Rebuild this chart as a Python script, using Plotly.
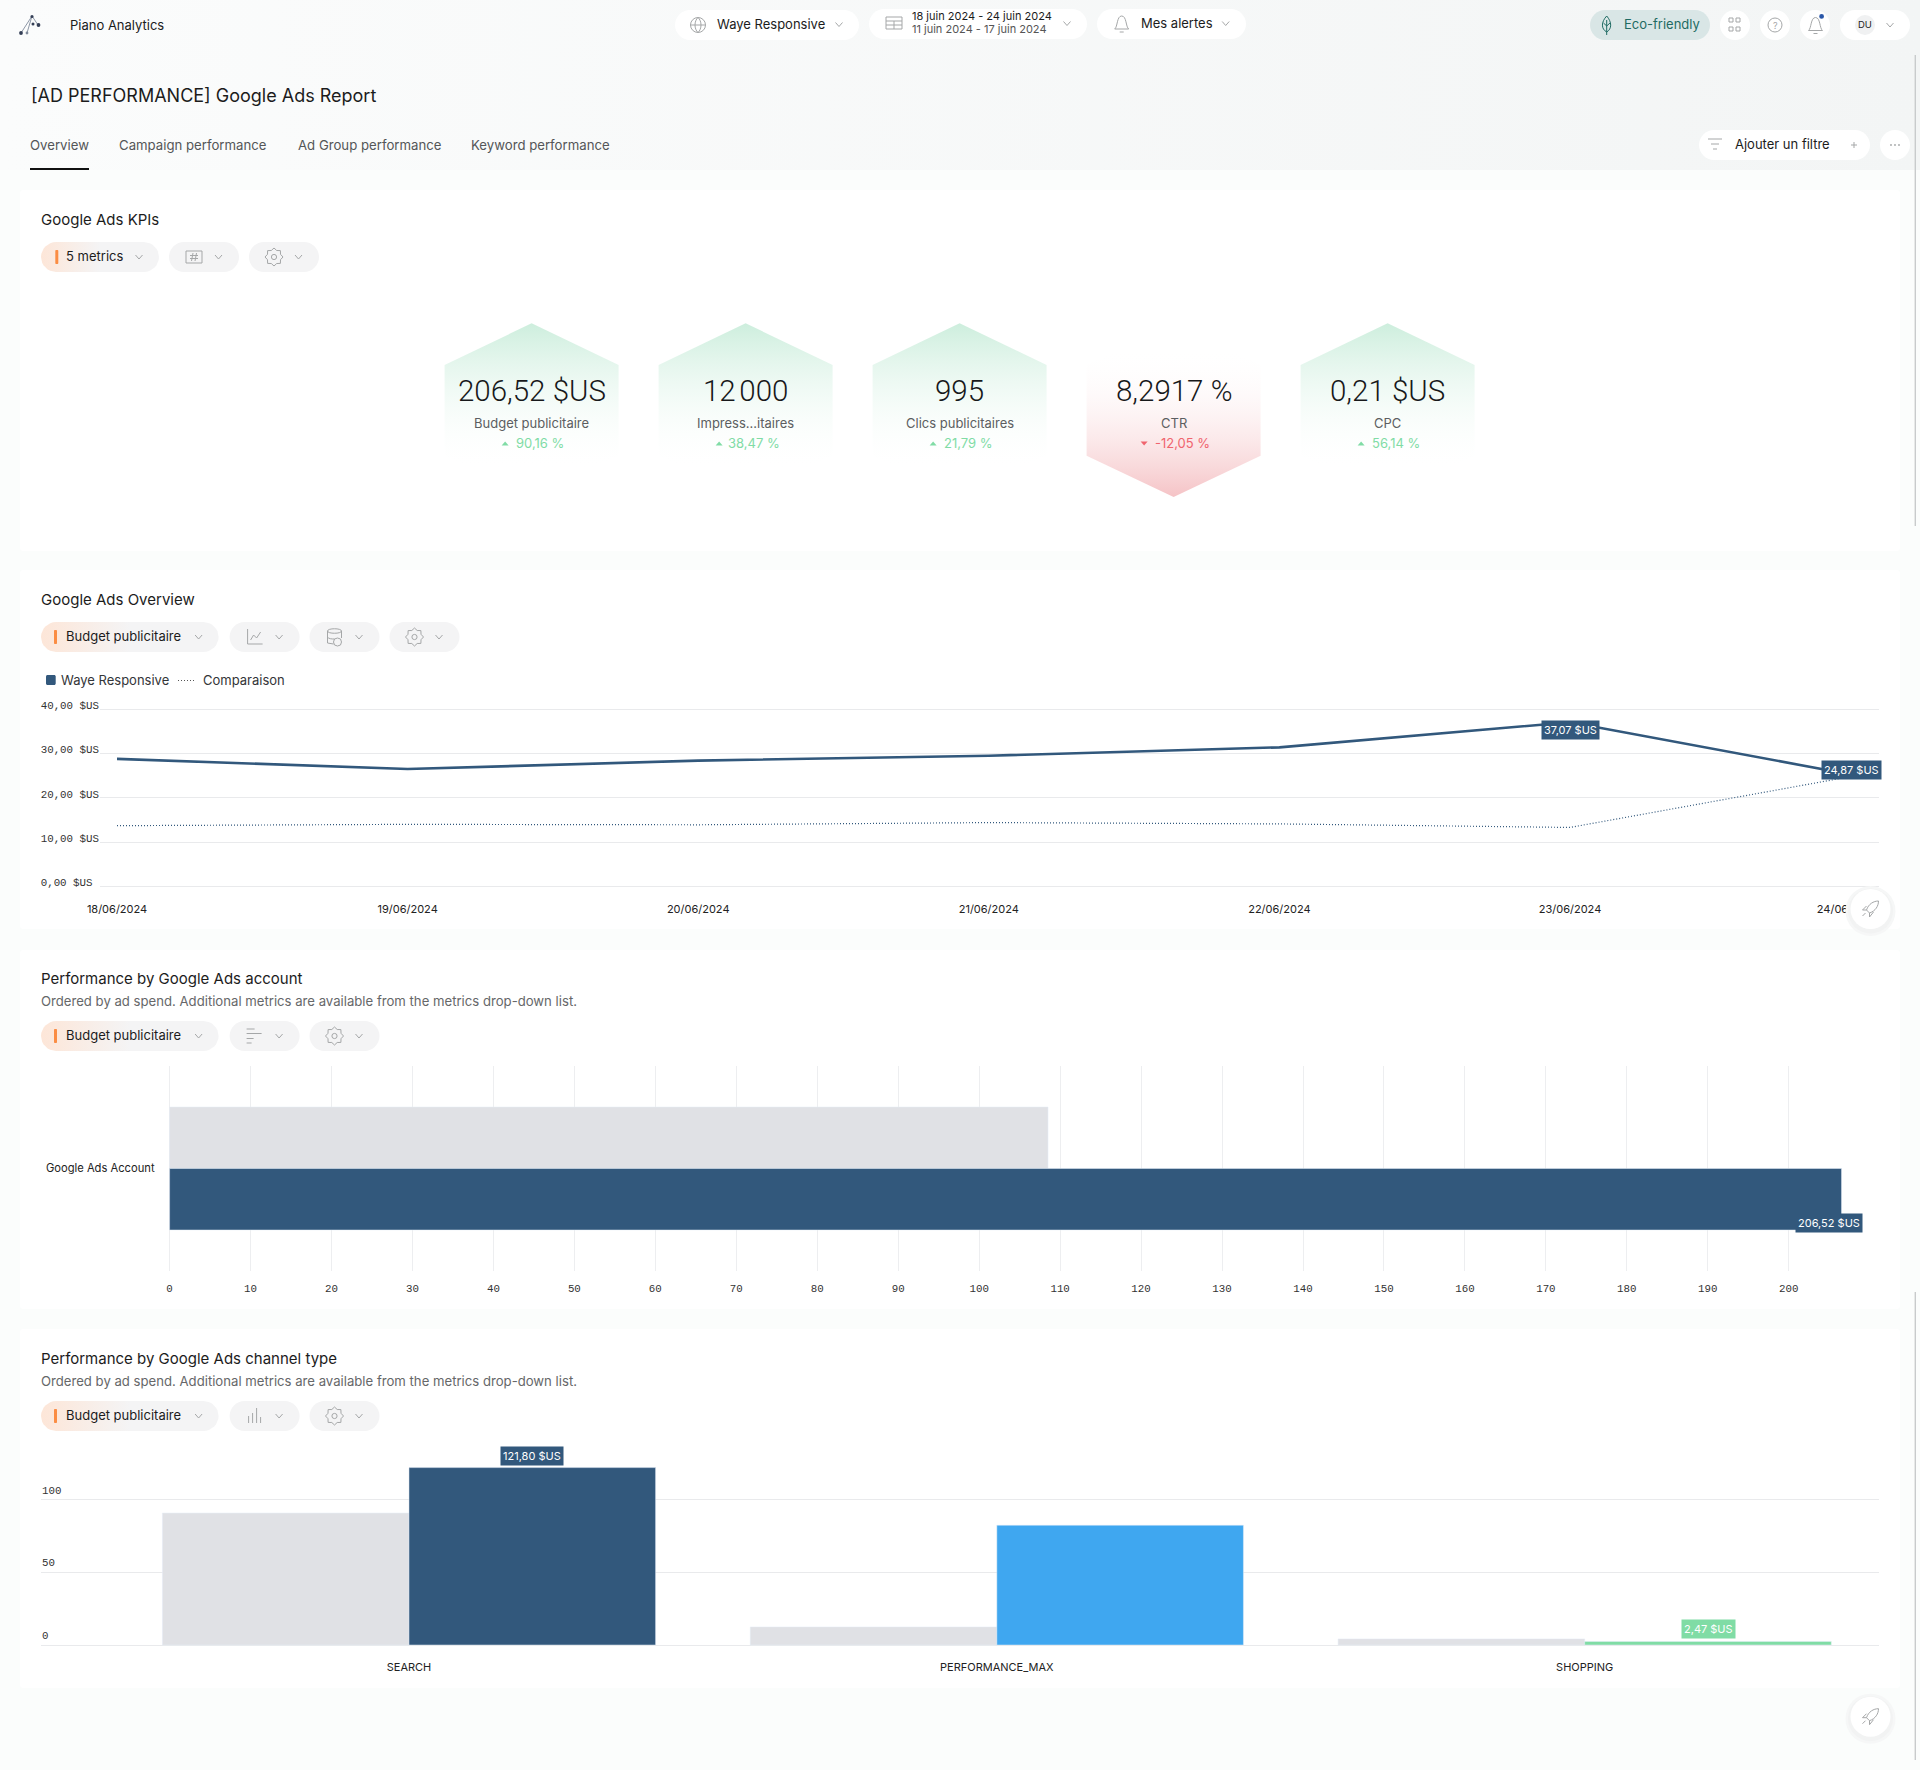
import math
import plotly.graph_objects as go

# data
dates = ["18/06/2024", "19/06/2024", "20/06/2024", "21/06/2024", "22/06/2024", "23/06/2024", "24/06/2024"]
budget_current = [28.8, 26.5, 28.4, 29.5, 31.4, 37.07, 24.87]
budget_compare = [13.7, 14.0, 13.9, 14.4, 14.1, 13.3, 25.2]
budget_ticks = [0, 10, 20, 30, 40]

account_names = ["Google Ads Account"]
account_compare = [108.5]
account_current = [206.52]
account_ticks = list(range(0, 201, 10))

channels = ["SEARCH", "PERFORMANCE_MAX", "SHOPPING"]
channel_compare = [90.6, 12.4, 4.2]
channel_current = [121.80, 82.25, 2.47]
channel_ticks = [0, 50, 100]

kpi_values = ["206,52 $US", "12\u202f000", "995", "8,2917 %", "0,21 $US"]
kpi_names = ["Budget publicitaire", "Impress...itaires", "Clics publicitaires", "CTR", "CPC"]
kpi_deltas = ["90,16 %", "38,47 %", "21,79 %", "-12,05 %", "56,14 %"]

W, H = 1920, 1770
FONT = "Inter"
MONO = "Liberation Mono"
NAVY = "#32587c"
BLUE = "#3fa7f0"
GREEN = "#80dca5"
RED = "#f0646e"
GREY_BAR = "#e0e1e5"
GRID = "#e9eaec"
ICON = "#a5a7a8"
PILL = "#f4f4f5"

shapes = []
notes = []


def money(v):
    return f"{v:.2f}".replace(".", ",") + " $US"


def txt(x, y, text, size=13, color="#1c1c1c", anchor="left", weight=None, family=FONT):
    # small nudge: annotations sit a little low and to the right of the measured text
    if anchor == "left":
        x = x - 1
    notes.append(dict(x=x, y=y - 0.8, xref="x", yref="y", text=text, showarrow=False, xanchor=anchor,
                      yanchor="middle", borderpad=0,
                      font=dict(family=family, size=size, color=color, weight=weight)))


def rrect(x0, y0, x1, y1, r, fill, layer="above", line=None):
    k = r * 0.45
    p = (f"M{x0+r},{y0} L{x1-r},{y0} C{x1-k},{y0} {x1},{y0+k} {x1},{y0+r} L{x1},{y1-r} "
         f"C{x1},{y1-k} {x1-k},{y1} {x1-r},{y1} L{x0+r},{y1} C{x0+k},{y1} {x0},{y1-k} {x0},{y1-r} "
         f"L{x0},{y0+r} C{x0},{y0+k} {x0+k},{y0} {x0+r},{y0} Z")
    shapes.append(dict(type="path", path=p, xref="x", yref="y", fillcolor=fill, layer=layer,
                       line=dict(width=0) if line is None else dict(color=line, width=1)))


def stroke(path, color=ICON, width=1, fill=None):
    shapes.append(dict(type="path", path=path, xref="x", yref="y", layer="above",
                       fillcolor=fill, line=dict(color=color, width=width)))


def circle(cx, cy, r, color=ICON, width=1, fill=None):
    shapes.append(dict(type="circle", x0=cx-r, x1=cx+r, y0=cy-r, y1=cy+r, xref="x", yref="y", layer="above",
                       fillcolor=fill, line=dict(color=color, width=width)))


def chevron(cx, cy):
    stroke(f"M{cx-3.5},{cy-2} L{cx},{cy+2} L{cx+3.5},{cy-2}")


def bell(cx, cy):
    stroke(f"M{cx-7},{cy+6} C{cx-4},{cy+4} {cx-5},{cy-7} {cx},{cy-7} C{cx+5},{cy-7} {cx+4},{cy+4} {cx+7},{cy+6} Z")
    stroke(f"M{cx-2},{cy+9} L{cx+2},{cy+9}")


def gear(cx, cy):
    pts = []
    for i in range(16):
        r = 9 if i % 2 == 0 else 7
        pts.append((cx + r * math.sin(i * math.pi / 8), cy - r * math.cos(i * math.pi / 8)))
    stroke("M" + " L".join(f"{a:.1f},{b:.1f}" for a, b in pts) + " Z")
    circle(cx, cy, 2.6)


def rocket(cy):
    cx = 1870.5
    for r, op in [(25, "#f6f7f7"), (22.5, "#f2f3f3")]:
        circle(cx, cy + 2, r, color=op, width=0, fill=op)
    circle(cx, cy, 20, color="#ffffff", width=0, fill="#ffffff")
    stroke(f"M{cx+8},{cy-8} C{cx+3},{cy-8} {cx-2},{cy-5} {cx-4},{cy+1} L{cx-1},{cy+4} C{cx+5},{cy+2} {cx+8},{cy-3} {cx+8},{cy-8} Z")
    stroke(f"M{cx-4},{cy+1} L{cx-8},{cy+1} L{cx-4},{cy-3} M{cx-1},{cy+4} L{cx-1},{cy+8} L{cx+3},{cy+3}")
    stroke(f"M{cx-5},{cy+4} L{cx-8},{cy+7}")


def pill_points(x0, y0, x1, y1, r):
    xs, ys = [], []
    corners = [(x1-r, y0+r, -90), (x1-r, y1-r, 0), (x0+r, y1-r, 90), (x0+r, y0+r, 180)]
    for cx, cy, start in corners:
        for i in range(9):
            a = math.radians(start + i * 90 / 8)
            xs.append(cx + r * math.cos(a))
            ys.append(cy + r * math.sin(a))
    return xs + xs[:1], ys + ys[:1]


fig = go.Figure()


def grad_fill(xs, ys, kind, start, stop, scale):
    fig.add_trace(go.Scatter(x=xs, y=ys, xaxis="x", yaxis="y", mode="lines", line=dict(width=0), fill="toself",
                             fillgradient=dict(type=kind, start=start, stop=stop, colorscale=scale),
                             hoverinfo="skip", showlegend=False))


def metric_pill(x1, y0, label, bar_x=54):
    xs, ys = pill_points(41, y0, x1, y0 + 30, 15)
    grad_fill(xs, ys, "horizontal", 41, 41 + (x1 - 41) * 0.5, [[0, "#fde6d8"], [1, PILL]])
    rrect(bar_x, y0 + 8, bar_x + 3, y0 + 22, 1, "#fb8d44")
    txt(65.5, y0 + 15, label)
    chevron(x1 - 20, y0 + 15)


def small_pill(x0, y0, draw_icon):
    rrect(x0, y0, x0 + 70, y0 + 30, 15, PILL, layer="below")
    draw_icon(x0 + 25, y0 + 15)
    chevron(x0 + 49.5, y0 + 15)


def hash_icon(cx, cy):
    stroke(f"M{cx-8},{cy-6} H{cx+8} V{cy+6} H{cx-8} Z")
    stroke(f"M{cx-1},{cy-4} L{cx-2.5},{cy+4} M{cx+2.5},{cy-4} L{cx+1},{cy+4} M{cx-4},{cy-1.5} H{cx+4} M{cx-4},{cy+1.5} H{cx+4}")


def line_icon(cx, cy):
    stroke(f"M{cx-7},{cy-8} V{cy+7} H{cx+8}")
    stroke(f"M{cx-4},{cy+3} L{cx-1},{cy-2} L{cx+2},{cy+1} L{cx+6},{cy-5}")


def db_icon(cx, cy):
    stroke(f"M{cx-7},{cy-6} C{cx-7},{cy-9} {cx+7},{cy-9} {cx+7},{cy-6} V{cy+1} M{cx-7},{cy-6} V{cy+6} L{cx-1},{cy+7}")
    stroke(f"M{cx-7},{cy-6} C{cx-7},{cy-3} {cx+7},{cy-3} {cx+7},{cy-6}")
    stroke(f"M{cx-7},{cy} C{cx-6},{cy+2} {cx-2},{cy+2} {cx},{cy+2}")
    circle(cx + 3, cy + 5, 4)


def hbar_icon(cx, cy):
    stroke(f"M{cx-8},{cy-7} H{cx} M{cx-8},{cy-2.5} H{cx+7} M{cx-8},{cy+2.5} H{cx-1} M{cx-8},{cy+7} H{cx-3}")


def vbar_icon(cx, cy):
    stroke(f"M{cx-6},{cy+7} V{cy} M{cx-2},{cy+7} V{cy-3} M{cx+2},{cy+7} V{cy-8} M{cx+6},{cy+7} V{cy+1}")


# page background and header band
grad_fill([0, W, W, 0, 0], [0, 0, 170, 170, 0], "horizontal", 0, W, [[0, "#fbfcfc"], [1, "#f3f5f5"]])

# cards
for top, bottom in [(190, 551), (570, 929), (950, 1309), (1329, 1688)]:
    rrect(20, top, 1900, bottom, 3, "#ffffff", layer="below")
shapes.append(dict(type="rect", x0=1914.6, x1=1916, y0=55, y1=526, xref="x", yref="y", fillcolor="#c8cbcc", line_width=0, layer="above"))
shapes.append(dict(type="rect", x0=1914.6, x1=1916, y0=1292, y1=1760, xref="x", yref="y", fillcolor="#c8cbcc", line_width=0, layer="above"))

# top bar
stroke("M21,33 L32,16 L38,25 M32,16 L27,33", color="#8d97a6", width=1)
for cx, cy, r, c in [(32, 16.5, 1.6, "#333e55"), (21, 33, 1.9, "#333e55"), (38.5, 25, 1.9, "#333e55"), (33, 24, 1.5, "#333e55"), (27, 33, 1.4, "#7f8a9a")]:
    circle(cx, cy, r, color=c, width=0, fill=c)
txt(70, 25.5, "Piano Analytics")

rrect(675, 10, 859, 40, 15, "#ffffff")
circle(698, 25, 7.5)
stroke("M690.5,25 H705.5 M698,17.5 C694,21 694,29 698,32.5 C702,29 702,21 698,17.5")
txt(717, 24.7, "Waye Responsive")
chevron(839, 24.5)

rrect(869, 9, 1087, 39, 15, "#ffffff")
stroke("M886,17 H902 V29 H886 Z M886,21 H902 M894,21 V29 M886,25 H902")
txt(912, 16.8, "18 juin 2024 - 24 juin 2024", size=11)
txt(912, 29.8, "11 juin 2024 - 17 juin 2024", size=11, color="#555555")
chevron(1067, 23.5)

rrect(1097, 9, 1246, 39, 15, "#ffffff")
bell(1121.7, 23)
txt(1140.5, 23.7, "Mes alertes")
chevron(1225.7, 23.5)

rrect(1590, 10, 1710, 40, 15, "#d9e6e6")
stroke("M1606.7,16 C1601,22 1601,29 1606.7,32 C1612,29 1612,22 1606.7,16 Z M1606.7,20 V35 M1606.7,26 L1603.5,23 M1606.7,26 L1610,23", color="#1f6b63")
txt(1624, 25, "Eco-friendly", color="#1f6b63")

rrect(1720, 10, 1750, 40, 15, "#ffffff")
stroke("M1729,18 H1733 V22 H1729 Z M1736,18 H1740 V22 H1736 Z M1729,27 H1733 V31 H1729 Z M1736,27 H1740 V31 H1736 Z")
rrect(1760, 10, 1790, 40, 15, "#ffffff")
circle(1775, 25, 7)
notes.append(dict(x=1775, y=25, xref="x", yref="y", text="?", showarrow=False, borderpad=0, font=dict(family=FONT, size=9, color=ICON)))
rrect(1800, 10, 1830, 40, 15, "#ffffff")
bell(1815.5, 24.5)
circle(1821.6, 16.4, 2.4, color="#2a57a8", width=0, fill="#2a57a8")
rrect(1840, 10, 1910, 40, 15, "#ffffff")
circle(1865, 25, 10, color="#f0f1f2", width=0, fill="#f0f1f2")
txt(1865, 25, "DU", size=9.5, anchor="center")
chevron(1890, 25)

# report title and tabs
txt(30.5, 96, "[AD PERFORMANCE] Google Ads Report", size=18)
for x, t in [(30, "Overview"), (119, "Campaign performance"), (297.5, "Ad Group performance"), (471, "Keyword performance")]:
    txt(x, 145.7, t, color="#545658", size=13.2)
shapes.append(dict(type="rect", x0=30, x1=89, y0=168, y1=170, xref="x", yref="y", fillcolor="#111111", line_width=0, layer="above"))

rrect(1699, 130, 1870, 160, 15, "#ffffff")
stroke("M1708,139 H1722 M1711,144 H1719 M1713,149 H1717")
txt(1735, 144.7, "Ajouter un filtre")
stroke("M1851,145 H1857 M1854,142 V148")
rrect(1880, 130, 1910, 160, 15, "#ffffff")
for dx in (-4, 0, 4):
    circle(1895 + dx, 145, 0.6)

# KPI card
txt(41, 220, "Google Ads KPIs", size=15)
metric_pill(159, 242, "5 metrics", bar_x=55.3)
small_pill(169, 242, hash_icon)
small_pill(249, 242, gear)

kpi_x = [531.6, 745.6, 959.6, 1173.6, 1387.6]
for i, cx in enumerate(kpi_x):
    xs = [cx, cx + 87, cx + 87, cx, cx - 87, cx - 87, cx]
    ys = [323.3, 365, 455.7, 497, 455.7, 365, 323.3]
    if kpi_deltas[i].startswith("-"):
        grad_fill(xs, ys, "vertical", 350, 497, [[0, "rgba(255,255,255,0)"], [1, "#f5c3c6"]])
    else:
        grad_fill(xs, ys, "vertical", 323.3, 470, [[0, "#cdeedd"], [1, "rgba(255,255,255,0)"]])
    txt(cx, 392, kpi_values[i], size=29.5, color="#17181a", anchor="center", weight=300, family="Roboto")
    txt(cx, 423.7, kpi_names[i], color="#5c5e61", anchor="center")
    down = kpi_deltas[i].startswith("-")
    col = RED if down else GREEN
    dx = cx + 8.5
    txt(dx, 443.7, kpi_deltas[i], color=col, anchor="center")
    ax = cx - 26.5 if not down else cx - 29.5
    if down:
        stroke(f"M{ax-3.5},{441.5} H{ax+3.5} L{ax},{445.5} Z", color=col, width=0, fill=col)
    else:
        stroke(f"M{ax-3.5},{445.5} H{ax+3.5} L{ax},{441.5} Z", color=col, width=0, fill=col)

# overview card
txt(41, 600, "Google Ads Overview", size=15)
metric_pill(218.6, 622, "Budget publicitaire")
small_pill(229.6, 622, line_icon)
small_pill(309.5, 622, db_icon)
small_pill(389.5, 622, gear)
rrect(46, 675, 55.7, 685, 1.5, NAVY)
txt(61, 680.7, "Waye Responsive", color="#333538")
stroke("M178,680.5 H196", color="#555555", width=1.2)
shapes[-1]["line"]["dash"] = "1px,2px"
txt(203, 680.7, "Comparaison", color="#333538")

# account card
subtitle = "Ordered by ad spend. Additional metrics are available from the metrics drop-down list."
txt(41, 979, "Performance by Google Ads account", size=15)
txt(41, 1001.7, subtitle, size=13.15, color="#666769")
metric_pill(218.6, 1021, "Budget publicitaire")
small_pill(229.6, 1021, hbar_icon)
small_pill(309.5, 1021, gear)

# channel card
txt(41, 1359, "Performance by Google Ads channel type", size=15)
txt(41, 1381.7, subtitle, size=13.15, color="#666769")
metric_pill(218.6, 1401, "Budget publicitaire")
small_pill(229.6, 1401, vbar_icon)
small_pill(309.5, 1401, gear)

rocket(909)
rocket(1716.7)

# charts
fig.add_trace(go.Scatter(x=dates, y=budget_compare, xaxis="x2", yaxis="y2", mode="lines", name="Comparaison",
                         line=dict(color=NAVY, width=1.2, dash="1px,2px")))
fig.add_trace(go.Scatter(x=dates, y=budget_current, xaxis="x2", yaxis="y2", mode="lines", name="Waye Responsive",
                         line=dict(color=NAVY, width=2.6)))

fig.add_trace(go.Bar(y=account_names, x=account_compare, xaxis="x3", yaxis="y3", orientation="h",
                     marker_color=GREY_BAR, width=0.3, offset=-0.3))
fig.add_trace(go.Bar(y=account_names, x=account_current, xaxis="x3", yaxis="y3", orientation="h",
                     marker_color=NAVY, width=0.3, offset=0))

fig.add_trace(go.Bar(x=channels, y=channel_compare, xaxis="x4", yaxis="y4", marker_color=GREY_BAR))
fig.add_trace(go.Bar(x=channels, y=channel_current, xaxis="x4", yaxis="y4", marker_color=[NAVY, BLUE, GREEN]))


def chip(x, y, text, color, xref, yref, xshift=0, yshift=0):
    notes.append(dict(x=x, y=y, xref=xref, yref=yref, text=text, showarrow=False, xshift=xshift, yshift=yshift,
                      bgcolor=color, borderpad=2, font=dict(family=FONT, size=11, color="#ffffff")))


chip(dates[5], budget_current[5], money(budget_current[5]), NAVY, "x2", "y2", xshift=1, yshift=-8)
chip(dates[6], budget_current[6], money(budget_current[6]), NAVY, "x2", "y2", xshift=-8.6, yshift=6)
chip(account_current[0], account_names[0], money(account_current[0]), NAVY, "x3", "y3", xshift=-12.5, yshift=-54)
chip(channels[0], channel_current[0], money(channel_current[0]), NAVY, "x4", "y4", xshift=123.5, yshift=12)
chip(channels[2], channel_current[2], money(channel_current[2]), GREEN, "x4", "y4", xshift=123.5, yshift=12.5)


def dom_x(a, b):
    return [a / W, b / W]


def dom_y(top, bottom):
    return [1 - bottom / H, 1 - top / H]


mono_tick = dict(family=MONO, size=10.8, color="#333333")
tick_font = dict(family=FONT, size=11, color="#222222")
cat_font = dict(family=FONT, size=11.2, color="#222222")

fig.update_layout(
    width=W,
    height=H,
    margin=dict(l=0, r=0, t=0, b=0),
    paper_bgcolor="#fbfdfc",
    plot_bgcolor="rgba(0,0,0,0)",
    showlegend=False,
    barmode="group",
    bargap=0.161,
    bargroupgap=0,
    shapes=shapes,
    annotations=notes,
    font=dict(family=FONT),
    xaxis=dict(domain=[0, 1], range=[0, W], visible=False, fixedrange=True, automargin=False),
    yaxis=dict(domain=[0, 1], range=[H, 0], visible=False, fixedrange=True, automargin=False),
    # line chart, ranges run a bit past the end ticks so the outer grid lines stay drawn
    xaxis2=dict(domain=dom_x(100, 1878.6), range=[-0.0585, 6.062], anchor="y2", type="category",
                categoryorder="array", categoryarray=dates, showgrid=False, zeroline=False, showline=False,
                tickmode="array", tickvals=[0, 1, 2, 3, 4, 5, 5.957], ticktext=dates, automargin=False,
                tickfont=tick_font, ticks="", ticklabelstandoff=12),
    yaxis2=dict(domain=dom_y(707, 888.6), range=[-0.52, 40.52], anchor="x2", tickmode="array", tickvals=budget_ticks,
                ticktext=["0,00 $US\u00a0"] + [f"{v},00 $US" for v in budget_ticks[1:]], automargin=False,
                gridcolor=GRID, gridwidth=1.4, zeroline=False, showline=False, ticks="", tickfont=mono_tick,
                ticklabelshift=-4),
    # horizontal bars
    xaxis3=dict(domain=dom_x(167.6, 1878.6), range=[-0.247, 211.1], anchor="y3", tickmode="array", tickvals=account_ticks,
                gridcolor="#edeef0", gridwidth=1, zeroline=False, showline=False, ticks="", tickfont=mono_tick,
                ticklabelstandoff=9, automargin=False),
    yaxis3=dict(domain=dom_y(1066, 1271), range=[0.5, -0.5], anchor="x3", type="category", showgrid=False,
                zeroline=False, showline=False, ticks="", tickfont=cat_font, ticklabelstandoff=12, automargin=False),
    # vertical bars
    xaxis4=dict(domain=dom_x(41, 1878.6), range=[-0.626, 2.5], anchor="y4", type="category", showgrid=False,
                zeroline=False, showline=False, ticks="", tickfont=tick_font, ticklabelstandoff=12, automargin=False),
    yaxis4=dict(domain=dom_y(1440, 1647), range=[-1.373, 140.75], anchor="x4", tickmode="array", tickvals=channel_ticks,
                gridcolor=GRID, gridwidth=1.4, zeroline=False, showline=False, ticks="", tickfont=mono_tick,
                ticklabelposition="inside top", ticklabelshift=-2, ticklabelstandoff=-2, automargin=False),
)

fig.write_html("out.html", config={"displayModeBar": False},
               post_script="document.body.style.margin='0';document.body.style.overflow='hidden';")
